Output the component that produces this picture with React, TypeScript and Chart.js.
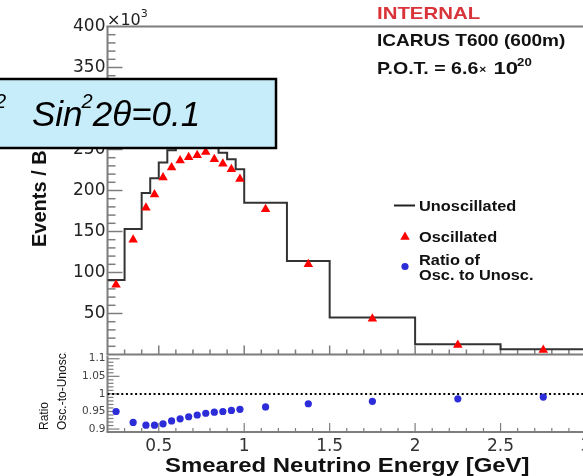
import React, { useEffect, useRef } from "react";
import { Chart, registerables } from "chart.js";

Chart.register(...registerables);

// ---------------- data ----------------
const binEdges = [0.2, 0.3, 0.4, 0.45, 0.5, 0.55, 0.6, 0.65, 0.7, 0.75, 0.8, 0.85, 0.9, 0.95, 1.0, 1.25, 1.5, 2.0, 2.5, 3.0];
const unoscillated = [91, 153, 197, 215, 234, 249, 255, 258, 259, 262, 254, 246, 238, 226, 185, 114, 45, 12.5, 6.3];
const oscillated = [85, 140, 179, 195, 216, 228, 236.5, 240.5, 243, 247, 238, 232.5, 226, 214, 177, 110, 43.5, 11.6, 5.5];
const ratioOscToUnosc = [0.95, 0.919, 0.911, 0.911, 0.915, 0.923, 0.929, 0.935, 0.94, 0.945, 0.948, 0.95, 0.953, 0.956, 0.963, 0.972, 0.979, 0.986, 0.991];
const eventTicks = [50, 100, 150, 200, 250, 300, 350, 400];
const ratioTicks = [0.9, 0.95, 1, 1.05, 1.1];
const energyTicks = [0.5, 1, 1.5, 2, 2.5, 3];
const ratioReference = 1;

const binCenters = binEdges.slice(0, -1).map((e, i) => (e + binEdges[i + 1]) / 2);

// ---------------- layout ----------------
const CANVAS_W = 600;
const TOP_H = 360;
const BOT_Y = 352;
const BOT_H = 476 - BOT_Y;
const PLOT_L = 107.5;
const PLOT_R = 586;
const TOP_T = 26.5;
const MID = 354.5;
const BOT_B = 432;
const FRAME = "#7d7d7d";
const HELV = "'Liberation Sans', Arial, Helvetica, sans-serif";
const DJ = "'DejaVu Sans', sans-serif";

function seg(ctx: CanvasRenderingContext2D, text: string, x: number, y: number, font: string, color: string, sx = 1): number {
  ctx.save();
  ctx.font = font;
  ctx.fillStyle = color;
  ctx.textAlign = "left";
  ctx.textBaseline = "alphabetic";
  ctx.translate(x, y);
  ctx.scale(sx, 1);
  ctx.fillText(text, 0, 0);
  const w = ctx.measureText(text).width * sx;
  ctx.restore();
  return x + w;
}

function vtext(ctx: CanvasRenderingContext2D, text: string, x: number, y: number, font: string, color: string) {
  ctx.save();
  ctx.font = font;
  ctx.fillStyle = color;
  ctx.textAlign = "left";
  ctx.textBaseline = "alphabetic";
  ctx.translate(x, y);
  ctx.rotate(-Math.PI / 2);
  ctx.fillText(text, 0, 0);
  ctx.restore();
}

function line(ctx: CanvasRenderingContext2D, x1: number, y1: number, x2: number, y2: number) {
  ctx.beginPath();
  ctx.moveTo(x1, y1);
  ctx.lineTo(x2, y2);
  ctx.stroke();
}

const topDecor = {
  id: "topDecor",
  beforeDatasetsDraw(chart: any) {
    const ctx: CanvasRenderingContext2D = chart.ctx;
    const { left, top, bottom } = chart.chartArea;
    const xs = chart.scales.x;
    const ys = chart.scales.y;
    ctx.save();
    ctx.strokeStyle = FRAME;
    ctx.lineWidth = 1.5;
    for (let v = 10; v < 400; v += 10) {
      const y = ys.getPixelForValue(v);
      line(ctx, left, y, left + (v % 50 === 0 ? 15 : 8), y);
    }
    for (let i = 3; i <= 30; i++) {
      const x = xs.getPixelForValue(i / 10);
      line(ctx, x, bottom, x, bottom - (i % 5 === 0 ? 9 : 5));
    }
    ctx.lineWidth = 2;
    line(ctx, left, top, left, bottom);
    line(ctx, left - 1, top, CANVAS_W, top);
    line(ctx, left - 1, bottom, CANVAS_W, bottom);
    ctx.restore();
  },
  afterDraw(chart: any) {
    const ctx: CanvasRenderingContext2D = chart.ctx;
    // x10^3
    let x = seg(ctx, "\u00d710", 107, 25, `16px ${DJ}`, "#222");
    seg(ctx, "3", x, 17, `11px ${DJ}`, "#222");

    // y title
    vtext(ctx, "Events / Bin", 46, 247, `bold 20px ${HELV}`, "#111");

    // header texts
    seg(ctx, "INTERNAL", 377, 19, `bold 17px ${HELV}`, "#d8343a", 1.2);
    seg(ctx, "ICARUS T600 (600m)", 377, 45.5, `bold 17px ${HELV}`, "#111", 1.12);
    x = seg(ctx, "P.O.T. = 6.6", 377, 74, `bold 17px ${HELV}`, "#111", 1.15);
    x = seg(ctx, "\u00d7", x + 1, 73, `bold 11px ${HELV}`, "#111", 1.1);
    x = seg(ctx, " 10", x + 1, 74, `bold 17px ${HELV}`, "#111", 1.3);
    seg(ctx, "20", x - 1, 66, `bold 11px ${HELV}`, "#111", 1.2);

    // legend
    ctx.save();
    ctx.strokeStyle = "#222";
    ctx.lineWidth = 2;
    line(ctx, 394, 205.5, 415, 205.5);
    ctx.fillStyle = "#ff0000";
    const tx = 405, ty = 237, R = 5.5;
    ctx.beginPath();
    ctx.moveTo(tx, ty - R);
    ctx.lineTo(tx + R * Math.sin((2 * Math.PI) / 3), ty - R * Math.cos((2 * Math.PI) / 3));
    ctx.lineTo(tx + R * Math.sin((4 * Math.PI) / 3), ty - R * Math.cos((4 * Math.PI) / 3));
    ctx.closePath();
    ctx.fill();
    ctx.fillStyle = "#2c2cd8";
    ctx.beginPath();
    ctx.arc(405, 266.5, 3.6, 0, Math.PI * 2);
    ctx.fill();
    ctx.restore();
    const lf = `bold 15px ${HELV}`;
    seg(ctx, "Unoscillated", 419, 211, lf, "#111", 1.09);
    seg(ctx, "Oscillated", 419, 241.5, lf, "#111", 1.09);
    seg(ctx, "Ratio of", 419, 264.5, lf, "#111", 1.09);
    seg(ctx, "Osc. to Unosc.", 419, 279.5, lf, "#111", 1.09);

    // annotation box
    ctx.save();
    ctx.fillStyle = "#c8edfa";
    ctx.fillRect(-3, 79, 279, 69);
    ctx.strokeStyle = "#000";
    ctx.lineWidth = 2.5;
    ctx.strokeRect(-3, 79, 279, 69);
    ctx.restore();
    const bf = `italic 35px ${HELV}`;
    const sf = `italic 20px ${HELV}`;
    seg(ctx, "2", -5, 108, sf, "#000");
    x = seg(ctx, "Sin", 32, 126, bf, "#000");
    x = seg(ctx, "2", x - 1, 108, sf, "#000");
    seg(ctx, "2\u03b8=0.1", x, 126, bf, "#000");
  },
};

const botDecor = {
  id: "botDecor",
  beforeDatasetsDraw(chart: any) {
    const ctx: CanvasRenderingContext2D = chart.ctx;
    const { left, top, bottom } = chart.chartArea;
    const xs = chart.scales.x;
    const ys = chart.scales.y;
    ctx.save();
    ctx.strokeStyle = FRAME;
    ctx.lineWidth = 1.2;
    for (let i = 89; i <= 110; i++) {
      const v = i / 100;
      if (v < ys.min || v > ys.max) continue;
      const y = ys.getPixelForValue(v);
      line(ctx, left, y, left + (i % 5 === 0 ? 12 : 6), y);
    }
    for (let i = 3; i <= 30; i++) {
      const x = xs.getPixelForValue(i / 10);
      line(ctx, x, bottom, x, bottom - (i % 5 === 0 ? 9 : 4));
    }
    ctx.lineWidth = 2;
    line(ctx, left, top, left, bottom);
    line(ctx, left - 1, bottom, CANVAS_W, bottom);
    ctx.restore();
  },
  afterDraw(chart: any) {
    const ctx: CanvasRenderingContext2D = chart.ctx;
    vtext(ctx, "Ratio", 48, 430 - BOT_Y, `12px ${HELV}`, "#111");
    vtext(ctx, "Osc.-to-Unosc.", 66, 430 - BOT_Y, `12px ${HELV}`, "#111");
    seg(ctx, "Smeared Neutrino Energy [GeV]", 165, 472 - BOT_Y, `bold 21px ${HELV}`, "#111", 1.14);
  },
};

function zeroPad(s: any) {
  s.paddingTop = 0;
  s.paddingBottom = 0;
  s.paddingLeft = 0;
  s.paddingRight = 0;
}

const pxPerRatio = 358.5;
const ratioMax = 1.1 + (357.3 - MID) / pxPerRatio;
const ratioMin = 0.9 - (BOT_B - 429) / pxPerRatio;

export default function App() {
  const topRef = useRef<HTMLCanvasElement>(null);
  const botRef = useRef<HTMLCanvasElement>(null);

  useEffect(() => {
    const xMin = binEdges[0];
    const xMax = binEdges[binEdges.length - 1];

    const top = new Chart(topRef.current as HTMLCanvasElement, {
      type: "line",
      data: {
        datasets: [
          {
            label: "Oscillated",
            data: binCenters.map((x, i) => ({ x, y: oscillated[i] })),
            showLine: false,
            pointStyle: "triangle",
            pointRadius: 5.5,
            pointBackgroundColor: "#ff0000",
            pointBorderWidth: 0,
            order: 0,
          } as any,
          {
            label: "Unoscillated",
            data: binEdges.map((x, i) => ({ x, y: unoscillated[Math.min(i, unoscillated.length - 1)] })),
            stepped: true,
            borderColor: "#333333",
            borderWidth: 2,
            pointRadius: 0,
            fill: false,
            order: 1,
          } as any,
        ],
      },
      options: {
        responsive: false,
        animation: false,
        events: [],
        layout: { padding: { left: 0, right: CANVAS_W - PLOT_R, top: TOP_T, bottom: TOP_H - MID } },
        plugins: { legend: { display: false }, tooltip: { enabled: false } },
        scales: {
          x: { type: "linear", display: false, min: xMin, max: xMax },
          y: {
            type: "linear",
            min: 0,
            max: 400,
            afterBuildTicks: (s: any) => {
              s.ticks = eventTicks.map((v) => ({ value: v }));
            },
            afterFit: (s: any) => {
              s.width = PLOT_L;
              zeroPad(s);
            },
            grid: { display: false, drawTicks: false },
            border: { display: false },
            ticks: {
              autoSkip: false,
              padding: 2,
              color: "#222",
              font: { family: "DejaVu Sans", size: 17 },
              callback: (v: any) => String(v),
            },
          },
        },
      } as any,
      plugins: [topDecor],
    });

    const bot = new Chart(botRef.current as HTMLCanvasElement, {
      type: "line",
      data: {
        datasets: [
          {
            label: "Ratio of Osc. to Unosc.",
            data: binCenters.map((x, i) => ({ x, y: ratioOscToUnosc[i] })),
            showLine: false,
            pointStyle: "circle",
            pointRadius: 3.6,
            pointBackgroundColor: "#2c2cd8",
            pointBorderWidth: 0,
            order: 0,
          } as any,
          {
            label: "Reference",
            data: [
              { x: xMin, y: ratioReference },
              { x: xMax, y: ratioReference },
            ],
            borderColor: "#000",
            borderWidth: 2,
            borderDash: [2, 2.6],
            pointRadius: 0,
            fill: false,
            order: 1,
          } as any,
        ],
      },
      options: {
        responsive: false,
        animation: false,
        events: [],
        layout: { padding: { left: 0, right: CANVAS_W - PLOT_R, top: MID - BOT_Y, bottom: 0 } },
        plugins: { legend: { display: false }, tooltip: { enabled: false } },
        scales: {
          x: {
            type: "linear",
            min: xMin,
            max: xMax,
            afterBuildTicks: (s: any) => {
              s.ticks = energyTicks.map((v) => ({ value: v }));
            },
            afterFit: (s: any) => {
              s.height = BOT_H - (BOT_B - BOT_Y);
              zeroPad(s);
            },
            grid: { display: false, drawTicks: false },
            border: { display: false },
            ticks: {
              autoSkip: false,
              maxRotation: 0,
              padding: 4,
              color: "#333",
              font: { family: "DejaVu Sans", size: 17 },
              callback: (v: any) => String(v),
            },
          },
          y: {
            type: "linear",
            min: ratioMin,
            max: ratioMax,
            afterBuildTicks: (s: any) => {
              s.ticks = ratioTicks.map((v) => ({ value: v }));
            },
            afterFit: (s: any) => {
              s.width = PLOT_L;
              zeroPad(s);
            },
            grid: { display: false, drawTicks: false },
            border: { display: false },
            ticks: {
              autoSkip: false,
              padding: 2,
              color: "#444",
              font: { family: "DejaVu Sans", size: 10.5 },
              callback: (v: any) => String(v),
            },
          },
        },
      } as any,
      plugins: [botDecor],
    });

    return () => {
      top.destroy();
      bot.destroy();
    };
  }, []);

  return (
    <div style={{ position: "fixed", left: 0, top: 0, width: 583, height: 476, overflow: "hidden", background: "#fff" }}>
      <canvas ref={topRef} width={CANVAS_W} height={TOP_H} style={{ position: "absolute", left: 0, top: 0, width: CANVAS_W, height: TOP_H }} />
      <canvas ref={botRef} width={CANVAS_W} height={BOT_H} style={{ position: "absolute", left: 0, top: BOT_Y, width: CANVAS_W, height: BOT_H }} />
    </div>
  );
}
